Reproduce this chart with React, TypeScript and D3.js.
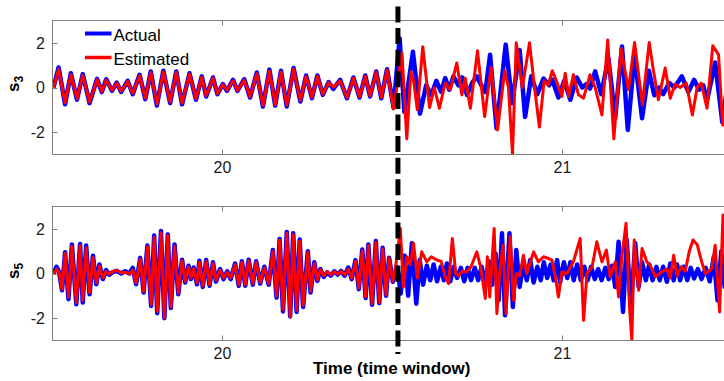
import React from 'react';
import * as d3 from 'd3';

// ---------- data (time in time-window units, values in signal units) ----------
const S3_TIME_BEFORE = [19.503, 19.518, 19.537, 19.554, 19.572, 19.589, 19.609, 19.631, 19.645, 19.658,
  19.675, 19.689, 19.702, 19.721, 19.736, 19.756, 19.773, 19.789, 19.807, 19.826,
  19.846, 19.864, 19.881, 19.903, 19.922, 19.939, 19.952, 19.972, 19.985, 20.001,
  20.013, 20.031, 20.044, 20.064, 20.081, 20.101, 20.119, 20.138, 20.155, 20.172,
  20.189, 20.209, 20.229, 20.246, 20.263, 20.279, 20.295, 20.312, 20.326, 20.346,
  20.366, 20.385, 20.403, 20.42, 20.434, 20.452, 20.467, 20.484, 20.503];
const S3_ACTUAL_BEFORE = [0, 0.9, -0.75, 0.64, -0.55, 0.6, -0.7, 0.39, -0.2, 0.37,
  -0.15, 0.22, -0.2, 0.3, -0.3, 0.57, -0.52, 0.72, -0.81, 0.75,
  -0.7, 0.72, -0.75, 0.64, -0.55, 0.5, -0.4, 0.45, -0.3, 0.15,
  -0.15, 0.34, -0.15, 0.37, -0.45, 0.67, -0.85, 0.8, -0.81, 0.75,
  -0.85, 0.87, -0.63, 0.54, -0.48, 0.54, -0.33, 0.24, -0.06, 0.34,
  -0.48, 0.45, -0.45, 0.54, -0.4, 0.72, -0.48, 0.82, -0.9];
const S3_ESTIMATED_BEFORE = [0, 0.82, -0.68, 0.58, -0.5, 0.55, -0.65, 0.35, -0.18, 0.33,
  -0.12, 0.2, -0.17, 0.27, -0.27, 0.52, -0.48, 0.67, -0.75, 0.7,
  -0.65, 0.68, -0.7, 0.6, -0.5, 0.46, -0.36, 0.42, -0.27, 0.13,
  -0.12, 0.3, -0.13, 0.33, -0.42, 0.62, -0.8, 0.74, -0.77, 0.7,
  -0.8, 0.82, -0.58, 0.5, -0.44, 0.5, -0.3, 0.22, 0.02, 0.3,
  -0.45, 0.42, -0.42, 0.5, -0.37, 0.68, -0.45, 0.78, -0.96];

const S3_ACTUAL_TIME_AFTER = [20.521, 20.535, 20.56, 20.581, 20.599, 20.614, 20.629, 20.643, 20.655, 20.667,
  20.679, 20.694, 20.705, 20.719, 20.734, 20.748, 20.761, 20.773, 20.787, 20.806,
  20.833, 20.852, 20.874, 20.89, 20.908, 20.926, 20.944, 20.961, 20.97, 20.988,
  21.005, 21.023, 21.042, 21.058, 21.07, 21.081, 21.096, 21.114, 21.135, 21.155,
  21.175, 21.192, 21.212, 21.234, 21.254, 21.27, 21.284, 21.296, 21.314, 21.329,
  21.351, 21.37, 21.387, 21.402, 21.414, 21.425, 21.449, 21.47, 21.487];
const S3_ACTUAL_AFTER = [2.2, -1.1, 1.6, -1.17, 0.1, -0.35, 0.3, -0.2, 0.42, -0.1,
  0.5, 0.1, 0.45, -0.33, 0.2, 0.5, 0.1, -0.2, 1.47, -1.83,
  1.92, -0.7, 1.68, -1.32, 0.5, -0.3, 0.4, 0.1, 0.35, -0.45,
  0.3, -0.55, 0.45, 0.0, 0.15, -0.05, 0.72, -0.3, 1.32, -1.38,
  1.84, -1.9, 1.45, -1.38, 0.75, -0.35, 0.0, -0.3, 0.2, 0.0,
  0.5, -0.2, 0.34, -0.1, 0.1, -0.6, 1.12, -1.55, 0.3];

const S3_ESTIMATED_TIME_AFTER = [20.528, 20.542, 20.554, 20.562, 20.573, 20.589, 20.609, 20.623, 20.638, 20.655,
  20.67, 20.689, 20.704, 20.714, 20.729, 20.75, 20.771, 20.79, 20.809, 20.83,
  20.841, 20.853, 20.864, 20.882, 20.903, 20.917, 20.932, 20.946, 20.958, 20.97,
  20.982, 20.998, 21.008, 21.018, 21.032, 21.047, 21.062, 21.081, 21.096, 21.116,
  21.133, 21.151, 21.172, 21.194, 21.212, 21.235, 21.255, 21.267, 21.282, 21.302,
  21.317, 21.331, 21.346, 21.364, 21.382, 21.396, 21.408, 21.425, 21.442, 21.459,
  21.471, 21.487];
const S3_ESTIMATED_AFTER = [1.53, -2.3, 0.7, 0.3, -1.0, 1.83, -0.9, 0.0, -0.93, 0.2,
  -0.1, 1.1, -0.33, 0.42, -0.93, 1.65, -1.3, 0.9, -1.9, 0.75,
  0.0, -3.0, 2.0, 0.0, 2.0, 0.1, -1.77, 0.3, 0.1, 0.75,
  0.3, -0.4, 0.64, -0.4, 0.57, -0.33, -0.48, 0.57, 0.0, -1.23,
  2.13, -2.3, 1.75, -0.1, 2.02, -0.78, 2.02, 0.8, -0.55, 0.87,
  -0.48, 0.15, 0.0, 0.2, -1.23, 0.0, 0.2, -0.93, 1.87, 1.47,
  -1.68, 0.0];

const S5_TIME_BEFORE = [19.503, 19.512, 19.519, 19.528, 19.537, 19.547, 19.557, 19.57, 19.581, 19.589,
  19.599, 19.609, 19.619, 19.629, 19.638, 19.648, 19.658, 19.667, 19.676, 19.689,
  19.702, 19.714, 19.726, 19.736, 19.746, 19.758, 19.768, 19.779, 19.79, 19.799,
  19.808, 19.819, 19.829, 19.839, 19.848, 19.859, 19.87, 19.881, 19.89, 19.9,
  19.907, 19.915, 19.925, 19.932, 19.942, 19.952, 19.962, 19.972, 19.981, 19.993,
  20.003, 20.014, 20.024, 20.037, 20.048, 20.057, 20.067, 20.077, 20.089, 20.099,
  20.111, 20.123, 20.136, 20.148, 20.159, 20.168, 20.178, 20.189, 20.199, 20.208,
  20.218, 20.227, 20.237, 20.251, 20.259, 20.27, 20.279, 20.288, 20.298, 20.308,
  20.318, 20.329, 20.339, 20.349, 20.359, 20.37, 20.38, 20.391, 20.401, 20.411,
  20.421, 20.429, 20.44, 20.451, 20.461, 20.471, 20.481, 20.49, 20.501];
const S5_ACTUAL_BEFORE = [0, 0.3, 0.1, -0.75, 0.95, -1.15, 1.3, -1.38, 1.32, -1.3,
  1.25, -0.93, 0.8, -0.48, 0.4, -0.25, 0.15, -0.05, 0.05, 0.12,
  0.0, 0.1, 0.0, 0.25, -0.48, 0.7, -0.85, 1.25, -1.45, 1.7,
  -1.78, 1.9, -2.0, 1.75, -1.55, 1.3, -0.93, 0.62, -0.4, 0.35,
  -0.25, 0.27, -0.48, 0.57, -0.6, 0.6, -0.55, 0.5, -0.36, 0.2,
  -0.25, 0.1, -0.25, 0.45, -0.55, 0.55, -0.55, 0.62, -0.5, 0.55,
  -0.45, 0.3, -0.5, 1.05, -1.08, 1.55, -1.7, 1.86, -1.92, 1.8,
  -1.72, 1.52, -1.5, 1.0, -0.85, 0.5, -0.33, 0.2, -0.15, 0.05,
  -0.1, 0.1, -0.05, 0.12, -0.1, 0.27, -0.25, 0.6, -0.7, 1.07,
  -1.1, 1.3, -1.4, 1.45, -1.33, 1.15, -1.0, 0.7, -0.37];
const S5_ESTIMATED_BEFORE = [0, 0.2, 0.05, -0.7, 0.9, -1.05, 1.22, -1.3, 1.25, -1.22,
  1.15, -0.85, 0.72, -0.42, 0.33, -0.2, 0.1, -0.03, 0.08, 0.15,
  0.02, 0.06, -0.02, 0.15, -0.42, 0.65, -0.8, 1.2, -1.38, 1.62,
  -1.7, 1.82, -1.98, 1.7, -1.5, 1.22, -0.88, 0.58, -0.35, 0.3,
  -0.2, 0.22, -0.42, 0.5, -0.55, 0.55, -0.5, 0.45, -0.3, 0.15,
  -0.2, 0.05, -0.2, 0.4, -0.5, 0.5, -0.5, 0.57, -0.45, 0.5,
  -0.4, 0.25, -0.45, 1.0, -1.02, 1.5, -1.62, 1.8, -1.95, 1.75,
  -1.65, 1.45, -1.42, 0.95, -0.8, 0.45, -0.28, 0.18, -0.1, 0.08,
  -0.05, 0.08, -0.02, 0.1, -0.05, 0.2, -0.2, 0.55, -0.65, 1.02,
  -1.05, 1.25, -1.35, 1.4, -1.3, 1.1, -0.95, 0.68, -0.35];

const S5_ACTUAL_TIME_AFTER = [20.514, 20.524, 20.536, 20.546, 20.557, 20.57, 20.58, 20.59, 20.601, 20.611,
  20.621, 20.631, 20.642, 20.651, 20.66, 20.67, 20.68, 20.69, 20.701, 20.711,
  20.721, 20.731, 20.742, 20.752, 20.762, 20.773, 20.783, 20.793, 20.803, 20.812,
  20.822, 20.831, 20.844, 20.854, 20.864, 20.874, 20.884, 20.895, 20.905, 20.915,
  20.926, 20.936, 20.945, 20.955, 20.965, 20.974, 20.984, 20.993, 21.004, 21.014,
  21.023, 21.033, 21.043, 21.054, 21.064, 21.074, 21.084, 21.095, 21.105, 21.115,
  21.126, 21.136, 21.146, 21.155, 21.165, 21.178, 21.189, 21.201, 21.214, 21.224,
  21.234, 21.245, 21.255, 21.265, 21.276, 21.286, 21.296, 21.307, 21.317, 21.327,
  21.337, 21.346, 21.356, 21.367, 21.377, 21.387, 21.398, 21.409, 21.421, 21.433,
  21.445, 21.456, 21.467, 21.477, 21.487];
const S5_ACTUAL_AFTER = [0.3, -0.9, 0.8, -1.0, 1.35, -1.35, 0.6, -0.5, 0.35, -0.3,
  0.4, -0.35, 0.3, -0.3, 0.45, -0.35, 0.3, -0.2, 0.25, -0.35,
  0.25, -0.3, 0.25, -0.3, 0.3, -0.45, 0.55, -0.5, 0.9, -1.2,
  1.8, -1.87, 1.8, -1.5, 1.05, -0.6, 0.4, -0.3, 0.6, -0.4,
  0.3, -0.3, 0.5, -0.2, 0.4, -0.3, 0.6, -0.4, 0.5, -0.2,
  0.5, -0.3, 0.4, -0.3, 0.3, -0.3, 0.3, -0.25, 0.2, -0.3,
  0.25, -0.25, 0.35, -0.6, 1.42, -1.72, 1.5, -1.5, 1.35, -0.6,
  0.5, -0.3, 0.4, -0.3, 0.3, -0.3, 0.3, -0.37, 0.45, -0.3,
  0.4, -0.3, 0.3, -0.3, 0.25, -0.22, 0.2, -0.25, 0.25, -0.35,
  0.75, -1.2, 1.0, -0.6, 0.3];

const S5_ESTIMATED_TIME_AFTER = [20.511, 20.523, 20.532, 20.542, 20.552, 20.562, 20.573, 20.586, 20.601, 20.614,
  20.631, 20.643, 20.655, 20.665, 20.676, 20.686, 20.694, 20.705, 20.719, 20.731,
  20.748, 20.759, 20.773, 20.779, 20.786, 20.799, 20.807, 20.815, 20.825, 20.834,
  20.846, 20.856, 20.864, 20.874, 20.885, 20.895, 20.915, 20.929, 20.944, 20.959,
  20.969, 20.979, 20.988, 20.998, 21.013, 21.032, 21.052, 21.062, 21.072, 21.087,
  21.101, 21.116, 21.129, 21.14, 21.155, 21.165, 21.175, 21.187, 21.197, 21.204,
  21.211, 21.224, 21.234, 21.248, 21.258, 21.273, 21.292, 21.307, 21.317, 21.327,
  21.337, 21.349, 21.361, 21.373, 21.384, 21.396, 21.408, 21.42, 21.43, 21.439,
  21.449, 21.462, 21.472, 21.482];
const S5_ESTIMATED_AFTER = [0.5, 2.02, -0.6, 0.75, 0.4, 1.35, -0.2, 0.97, 0.52, 0.75,
  0.6, 0.55, -0.15, -0.45, 1.57, 0.0, -0.1, 0.1, 0.07, 0.3,
  0.97, 0.3, -1.12, 0.75, -1.05, 2.02, -1.8, 0.0, 1.27, -1.8,
  1.65, -1.2, 0.0, -0.1, 0.82, 0.0, 0.97, 0.52, 0.75, 0.67,
  0.6, -0.15, -1.05, 0.07, 0.0, 0.52, 1.57, -2.1, 0.0, 0.3,
  1.42, 0.52, 1.05, -0.15, 0.52, -1.05, 0.82, 2.25, -1.5, -3.0,
  1.5, -0.75, 1.12, 0.52, 0.37, -0.15, 0.07, 0.2, -0.2, 0.82,
  -0.1, 0.3, 0.1, 1.0, 1.5, 1.3, 0.6, 0.0, 0.1, 0.22,
  1.27, -1.72, 2.62, 0.0];

const X_DOMAIN = [19.5, 21.5];
const Y_DOMAIN = [-3, 3];
const Y_TICKS = [-2, 0, 2];
const X_TICKS = [20, 21];
const CHANGE_TIME = 20.516;
const SERIES_NAMES = ['Actual', 'Estimated'];

// ---------- layout ----------
const W = 724;
const H = 381;
const X0 = 52.5;
const X1 = 732.5;
const FONT = '"Liberation Sans", Arial, Helvetica, sans-serif';
const FRAME = '#7f7f7f';
const BLUE = '#0000ff';
const RED = '#ff0000';

type Pt = { t: number; v: number };
const zip = (ts: number[], vs: number[]): Pt[] => ts.map((t, i) => ({ t, v: vs[i] }));

export default function App() {
  const x = d3.scaleLinear().domain(X_DOMAIN).range([X0, X1]);
  const panels = [
    {
      id: 's3', sub: '3', top: 20.5, bottom: 154.5, labelY: 92,
      actual: zip(S3_TIME_BEFORE, S3_ACTUAL_BEFORE).concat(zip(S3_ACTUAL_TIME_AFTER, S3_ACTUAL_AFTER)),
      estimated: zip(S3_TIME_BEFORE, S3_ESTIMATED_BEFORE).concat(zip(S3_ESTIMATED_TIME_AFTER, S3_ESTIMATED_AFTER)),
    },
    {
      id: 's5', sub: '5', top: 206.5, bottom: 340.5, labelY: 279,
      actual: zip(S5_TIME_BEFORE, S5_ACTUAL_BEFORE).concat(zip(S5_ACTUAL_TIME_AFTER, S5_ACTUAL_AFTER)),
      estimated: zip(S5_TIME_BEFORE, S5_ESTIMATED_BEFORE).concat(zip(S5_ESTIMATED_TIME_AFTER, S5_ESTIMATED_AFTER)),
    },
  ];

  return (
    <svg width={W} height={H} viewBox={`0 0 ${W} ${H}`}
      style={{ position: 'absolute', left: 0, top: 0, background: '#fff' }}
      fontFamily={FONT}>
      <defs>
        {panels.map(p => (
          <clipPath id={`clip-${p.id}`} key={p.id}>
            <rect x={X0} y={p.top} width={X1 - X0} height={p.bottom - p.top} />
          </clipPath>
        ))}
      </defs>
      <rect x={0} y={0} width={W} height={H} fill="#fff" />
      {panels.map(p => {
        const y = d3.scaleLinear().domain(Y_DOMAIN).range([p.bottom, p.top]);
        const line = d3.line<Pt>().x(d => x(d.t)).y(d => y(d.v));
        return (
          <g key={p.id}>
            <g clipPath={`url(#clip-${p.id})`}>
              <path d={line(p.actual) || ''} fill="none" stroke={BLUE} strokeWidth={4.5} strokeLinejoin="round" />
              <path d={line(p.estimated) || ''} fill="none" stroke={RED} strokeWidth={3} strokeLinejoin="round" />
            </g>
            <rect x={X0} y={p.top} width={X1 - X0} height={p.bottom - p.top} fill="none" stroke={FRAME} strokeWidth={1} />
            {Y_TICKS.map(tk => (
              <g key={tk}>
                <line x1={X0} x2={X0 + 5} y1={Math.round(y(tk)) + 0.5} y2={Math.round(y(tk)) + 0.5} stroke={FRAME} />
                <text x={45} y={y(tk)} dy="0.36em" textAnchor="end" fontSize={16} fill="#1a1a1a">{tk}</text>
              </g>
            ))}
            {X_TICKS.map(tk => (
              <g key={tk}>
                <line x1={x(tk)} x2={x(tk)} y1={p.bottom} y2={p.bottom - 5} stroke={FRAME} />
                <line x1={x(tk)} x2={x(tk)} y1={p.top} y2={p.top + 5} stroke={FRAME} />
                <text x={x(tk)} y={p.bottom + 18.5} textAnchor="middle" fontSize={16} fill="#1a1a1a">{tk}</text>
              </g>
            ))}
            <text transform={`translate(18.5,${p.labelY}) rotate(-90)`} fontSize={17} fontWeight="bold" fill="#000">
              s<tspan fontSize={12} dy={4}>{p.sub}</tspan>
            </text>
          </g>
        );
      })}
      {/* legend */}
      <line x1={85} x2={111.5} y1={33.5} y2={33.5} stroke={BLUE} strokeWidth={4} />
      <text x={113.5} y={41} fontSize={17} fill="#000">{SERIES_NAMES[0]}</text>
      <line x1={85} x2={111.5} y1={57.5} y2={57.5} stroke={RED} strokeWidth={3.5} />
      <text x={113.5} y={65} fontSize={17} fill="#000">{SERIES_NAMES[1]}</text>
      {/* change-point marker */}
      <line x1={x(CHANGE_TIME)} x2={x(CHANGE_TIME)} y1={6.5} y2={354} stroke="#000" strokeWidth={5} strokeDasharray="16 5.6" />
      <text x={391.7} y={374} textAnchor="middle" fontSize={17} fontWeight="bold" fill="#000">Time (time window)</text>
    </svg>
  );
}
